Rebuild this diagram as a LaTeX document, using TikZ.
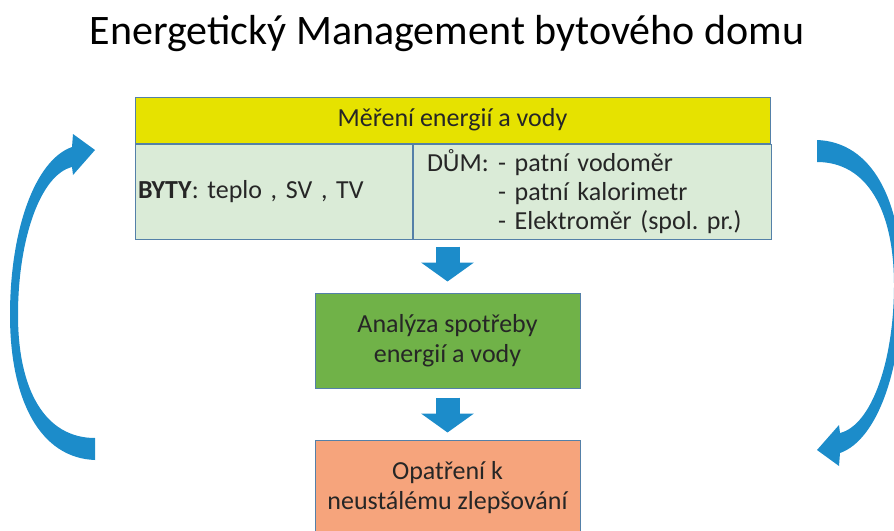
\documentclass[tikz,border=0pt]{standalone}
\usepackage{fontspec}
\setmainfont{Carlito}
\usetikzlibrary{arrows.meta,positioning}
\frenchspacing

\definecolor{zluta}{RGB}{230,226,0}
\definecolor{svetlezelena}{RGB}{218,235,215}
\definecolor{zelena}{RGB}{112,178,72}
\definecolor{oranzova}{RGB}{246,164,124}
\definecolor{modra}{RGB}{28,140,202}
\definecolor{okraj}{RGB}{84,128,168}

\begin{document}
\begin{tikzpicture}[x=1pt,y=-1pt,
    box/.style={draw=okraj,line width=1pt,inner sep=3pt,
      font=\fontsize{26}{29}\selectfont,text=black!85},
    blok/.style={box,minimum width=265pt,minimum height=95pt,align=center,
      font=\fontsize{26}{30}\selectfont},
    sipka/.style={modra,line width=24pt,-{Triangle[width=52pt,length=19pt]}},
    kruh/.pic={
      \fill[modra] (95,460) .. controls (40,458) and (10,400) .. (10,315)
        .. controls (10,230) and (35,160) .. (72,147) -- (73,134) -- (95,150)
        -- (73,175) -- (72,167) .. controls (40,175) and (18,240) .. (18,315)
        .. controls (18,390) and (45,438) .. (95,438) -- cycle;
    }]
  \clip (0,0) rectangle (894,530);

  \node[font=\fontsize{42}{50}\selectfont,anchor=base] (nadpis) at (447,44)
    {Energetický Management bytového domu};

  % tabulka mereni
  \node[box,fill=zluta,minimum width=635pt,minimum height=46pt] (mereni) at (452.5,120)
    {Měření energií a vody};
  \node[box,fill=svetlezelena,minimum width=277pt,minimum height=95pt,
        text width=271pt,anchor=north west] (byty) at (mereni.south west)
    {\textbf{BYTY}: teplo , SV , TV};
  \node[box,fill=svetlezelena,minimum width=358pt,minimum height=95pt,inner xsep=14pt,
        text width=330pt,align=left,anchor=north west] (dum) at (byty.north east)
    {\makebox[71pt][l]{DŮM:}- patní vodoměr\\\hspace*{71pt}- patní kalorimetr\\
     \hspace*{71pt}- Elektroměr (spol. pr.)};

  \node[blok,fill=zelena] (analyza) at (447.5,340.5) {Analýza spotřeby\\energií a vody};
  \node[blok,fill=oranzova,below=51pt of analyza] (opatreni)
    {Opatření k\\neustálému zlepšování};

  \draw[sipka] ([yshift=-7pt]analyza.north |- byty.south) -- ([yshift=11pt]analyza.north);
  \draw[sipka] ([yshift=-9pt]analyza.south) -- ([yshift=7pt]opatreni.north);

  % cyklus
  \pic at (0,0) {kruh};
  \pic[rotate=180] at (912,600) {kruh};
\end{tikzpicture}
\end{document}
